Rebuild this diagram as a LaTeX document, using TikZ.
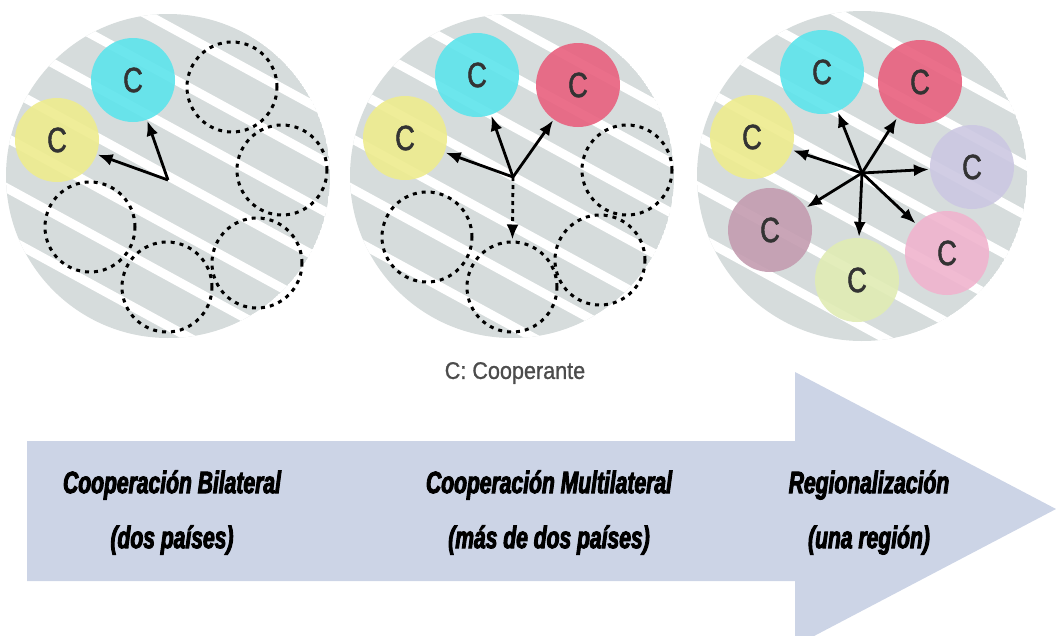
\documentclass[tikz,border=0pt]{standalone}
\usepackage{fontspec}
\setmainfont{Liberation Sans}
\newfontfamily\narrowfont[FakeStretch=0.78,FakeBold=1.5]{Liberation Sans}
\newfontfamily\keyfont[FakeStretch=0.9,FakeBold=1]{Liberation Sans}
\newfontfamily\phasefont[FakeStretch=0.68,FakeBold=3]{Liberation Sans Bold Italic}
\usetikzlibrary{arrows.meta}
\definecolor{globegray}{HTML}{D6DCDC}
\definecolor{bandblue}{HTML}{CCD4E6}
\definecolor{ccyan}{HTML}{5DE4EC}
\definecolor{cyellow}{HTML}{EEEC8E}
\definecolor{cred}{HTML}{E8607E}
\definecolor{clavender}{HTML}{CCC8E2}
\definecolor{cmauve}{HTML}{C49CB0}
\definecolor{cgreen}{HTML}{E0ECB4}
\definecolor{cpink}{HTML}{F0B4CE}
\begin{document}
\begin{tikzpicture}[x=1pt,y=-1pt,
coop/.style={circle,minimum size=84pt,inner sep=0pt,fill opacity=0.9,text opacity=1,text=black!80,font=\narrowfont\fontsize{35}{35}\selectfont},
vacant/.style={circle,draw,minimum size=90pt,inner sep=0pt,line width=3pt,dash pattern=on 4pt off 5pt},
link/.style={line width=2.8pt,-{Latex[length=15pt,width=12pt]},shorten >=1pt},
phase/.style={font=\phasefont\fontsize{31}{31}\selectfont}]
\useasboundingbox (0,0) rectangle (1056,635);
\clip (0,0) rectangle (1056,635);
\foreach \gx/\gr in {168/162,512/162,862/165}{
\begin{scope}
\clip (\gx,176) circle (\gr);
\fill[globegray] (\gx,176) circle (\gr);
\foreach \off in {-200,-150,...,200}
\draw[white,line width=9pt] (\gx-220,176+\off-120) -- (\gx+220,176+\off+120);
\end{scope}}
\fill[bandblue] (27,441) -- (795,441) -- (795,372) -- (1056,509) -- (795,646) -- (795,581) -- (27,581) -- cycle;
\node[vacant] (b1) at (232,87) {};
\node[vacant] (b2) at (282,170) {};
\node[vacant] (b3) at (257,263) {};
\node[vacant] (b4) at (167,287) {};
\node[vacant] (b5) at (90,227) {};
\node[coop,fill=ccyan] (a1) at (133,80) {C};
\node[coop,fill=cyellow] (a2) at (57,140) {C};
\coordinate (o1) at (168,180);
\draw[link] (o1) -- (a1);
\draw[link] (o1) -- (a2);
\node[vacant] (m1) at (627,170) {};
\node[vacant] (m2) at (600,260) {};
\node[vacant] (m3) at (512,287) {};
\node[vacant] (m4) at (427,237) {};
\node[coop,fill=ccyan] (n1) at (477,75) {C};
\node[coop,fill=cred] (n2) at (578,85) {C};
\node[coop,fill=cyellow] (n3) at (405,138) {C};
\coordinate (o2) at (513,177);
\draw[link] (o2) -- (n1);
\draw[link] (o2) -- (n2);
\draw[link] (o2) -- (n3);
\draw[link,dash pattern=on 4pt off 4pt] (o2) -- (m3);
\node[coop,fill=ccyan] (r1) at (822,72) {C};
\node[coop,fill=cred] (r2) at (920,82) {C};
\node[coop,fill=cyellow] (r3) at (752,137) {C};
\node[coop,fill=clavender] (r4) at (972,167) {C};
\node[coop,fill=cmauve] (r5) at (770,230) {C};
\node[coop,fill=cgreen] (r6) at (857,280) {C};
\node[coop,fill=cpink] (r7) at (947,253) {C};
\coordinate (o3) at (862,173);
\foreach \r in {r1,r2,r3,r4,r5,r6,r7}
\draw[link] (o3) -- (\r);
\node[text=black!70,font=\keyfont\fontsize{24}{24}\selectfont] (key) at (515,373) {C: Cooperante};
\node[phase] (t1) at (172,485) {Cooperación Bilateral};
\node[phase] (s1) at (172,540) {(dos países)};
\node[phase] (t2) at (549,485) {Cooperación Multilateral};
\node[phase] (s2) at (549,540) {(más de dos países)};
\node[phase] (t3) at (869,485) {Regionalización};
\node[phase] (s3) at (869,540) {(una región)};
\end{tikzpicture}
\end{document}
